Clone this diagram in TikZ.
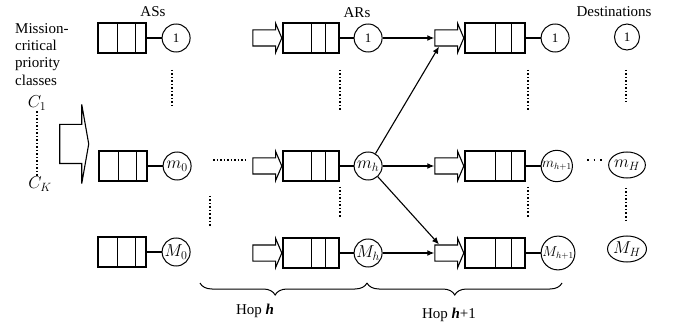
\documentclass[tikz,border=0pt]{standalone}
\usepackage{fontspec}
\setmainfont{Liberation Serif}
\usepackage{tikz}
\usetikzlibrary{arrows.meta,positioning,shapes.arrows,shapes.geometric,decorations.pathreplacing}
\definecolor{ink}{HTML}{000000}
\tikzset{
  qbox/.style n args={3}{draw=ink,line width=1.2pt,minimum width=#1,minimum height=30pt,inner sep=0pt,
    path picture={\draw[line width=0.9pt,draw=ink]
      ([xshift=#2]path picture bounding box.north west) -- ([xshift=#2]path picture bounding box.south west)
      ([xshift=#3]path picture bounding box.north west) -- ([xshift=#3]path picture bounding box.south west);}},
  srvnode/.style={draw=ink,circle,line width=1pt,minimum size=28pt,inner sep=0pt,
    font=\fontsize{17}{19}\selectfont},
  destnode/.style={draw=ink,ellipse,line width=1pt,minimum width=25pt,minimum height=26pt,inner sep=0pt,
    font=\fontsize{17}{19}\selectfont},
  numtxt/.style={font=\fontsize{13}{15}\selectfont},
  nexttxt/.style={font=\fontsize{13.5}{15}\selectfont},
  fatarrow/.style={draw=ink,single arrow,line width=1.1pt,inner xsep=0pt,inner ysep=7.5pt,minimum height=29pt,
    minimum width=0pt,single arrow head extend=6.5pt,single arrow tip angle=134},
  feedarrow/.style={fatarrow,inner ysep=19pt,single arrow head extend=20pt,single arrow tip angle=160},
  flowarrow/.style={-{Latex[length=7pt,width=6pt]},line width=1.1pt,draw=ink},
  linkline/.style={line width=1.3pt,draw=ink},
  dotline/.style={line width=1.5pt,dash pattern=on 1.5pt off 2pt,draw=ink},
  txt/.style={font=\fontsize{15}{17.3}\selectfont,inner sep=0pt},
  mathtxt/.style={font=\fontsize{18}{20}\selectfont,inner sep=1pt},
  hopbrace/.style={decorate,decoration={brace,amplitude=12pt,aspect=0.55},line width=1pt,draw=ink}
}

\begin{document}
\begin{tikzpicture}[x=1pt,y=-1pt,node distance=15pt]
\useasboundingbox (0,0) rectangle (677,331);
\node[txt,anchor=north west,align=left] (classes) at (15,23) {Mission-\\critical\\priority\\classes};
\node[mathtxt] (c1) at (37,103) {$C_1$};
\node[mathtxt] (ck) at (40,184) {$C_K$};
\draw[dotline] (c1.south) -- (c1.south |- ck.north);
\node[feedarrow] (feed) at (72.5,144) {};

\node[txt] (ashead) at (153,12) {ASs};
\node[qbox={48pt}{19pt}{37pt}] (as1) at (122,38) {};
\node[qbox={48pt}{19pt}{37pt}] (as2) at (123,166) {};
\node[qbox={48pt}{19pt}{37pt}] (as3) at (122,252) {};
\node[srvnode,numtxt,right=of as1] (s1) {1};
\node[srvnode,right=of as2] (s2) {\makebox[0pt]{$m_0$}};
\node[srvnode,right=of as3] (s3) {\makebox[0pt]{$M_0$}};
\draw[linkline] (as1) -- (s1);
\draw[linkline] (as2) -- (s2);
\draw[linkline] (as3) -- (s3);

\node[txt] (arhead) at (357,13) {ARs};
\node[qbox={56pt}{28pt}{42pt}] (ar1) at (311,38) {};
\node[qbox={56pt}{28pt}{42pt}] (ar2) at (311,166) {};
\node[qbox={56pt}{28pt}{42pt}] (ar3) at (311,253) {};
\node[fatarrow,left=0pt of ar1] (fa1) {};
\node[fatarrow,left=0pt of ar2] (fa2) {};
\node[fatarrow,left=0pt of ar3] (fa3) {};
\node[srvnode,numtxt,right=14pt of ar1] (r1) {1};
\node[srvnode,right=14pt of ar2] (r2) {\makebox[0pt]{$m_h$}};
\node[srvnode,right=14pt of ar3] (r3) {\makebox[0pt]{$M_h$}};
\draw[linkline] (ar1) -- (r1);
\draw[linkline] (ar2) -- (r2);
\draw[linkline] (ar3) -- (r3);

\node[qbox={60pt}{30pt}{46pt}] (hq1) at (495,38) {};
\node[qbox={60pt}{30pt}{46pt}] (hq2) at (495,166) {};
\node[qbox={60pt}{30pt}{46pt}] (hq3) at (495,253) {};
\node[fatarrow,left=0pt of hq1] (fb1) {};
\node[fatarrow,left=0pt of hq2] (fb2) {};
\node[fatarrow,left=0pt of hq3] (fb3) {};
\node[srvnode,numtxt,right=of hq1] (hs1) {1};
\node[srvnode,nexttxt,right=of hq2] (hs2) {$m_{h+1}$};
\node[srvnode,nexttxt,right=of hq3] (hs3) {$M_{h+1}$};
\draw[linkline] (hq1) -- (hs1);
\draw[linkline] (hq2) -- (hs2);
\draw[linkline] (hq3) -- (hs3);

\draw[flowarrow] (r1) -- (fb1);
\draw[flowarrow] (r2) -- (fb1.south west);
\draw[flowarrow] (r2) -- (fb2);
\draw[flowarrow] (r2) -- (fb3.north west);
\draw[flowarrow] (r3) -- (fb3);

\node[txt] (dsthead) at (614,12) {Destinations};
\node[destnode,numtxt] (d1) at (627,37) {1};
\node[destnode] (d2) at (627,165) {$m_H$};
\node[destnode,minimum width=35pt] (d3) at (627,249) {$M_H$};

\draw[dotline] (172,70) -- (172,107);
\draw[dotline] (213,160) -- (246,160);
\draw[dotline] (210,196) -- (210,227);
\draw[dotline] (340,70) -- (340,112);
\draw[dotline] (340,187) -- (340,218);
\draw[dotline] (528,70) -- (528,112);
\draw[dotline] (528,187) -- (528,218);
\draw[dotline,dash pattern=on 1.5pt off 5pt] (587,160) -- (604,160);
\draw[dotline] (626,70) -- (626,102);
\draw[dotline] (626,188) -- (626,220);

\coordinate (b0) at (200,283);
\coordinate (b1) at (367,283);
\coordinate (b2) at (562,283);
\draw[hopbrace] (b1) -- (b0);
\draw[hopbrace] (b2) -- (b1);
\node[txt] (hoph) at (255,311) {Hop \textbf{\textit{h}}};
\node[txt] (hopnext) at (449,315) {Hop \textbf{\textit{h}}+1};
\end{tikzpicture}
\end{document}
